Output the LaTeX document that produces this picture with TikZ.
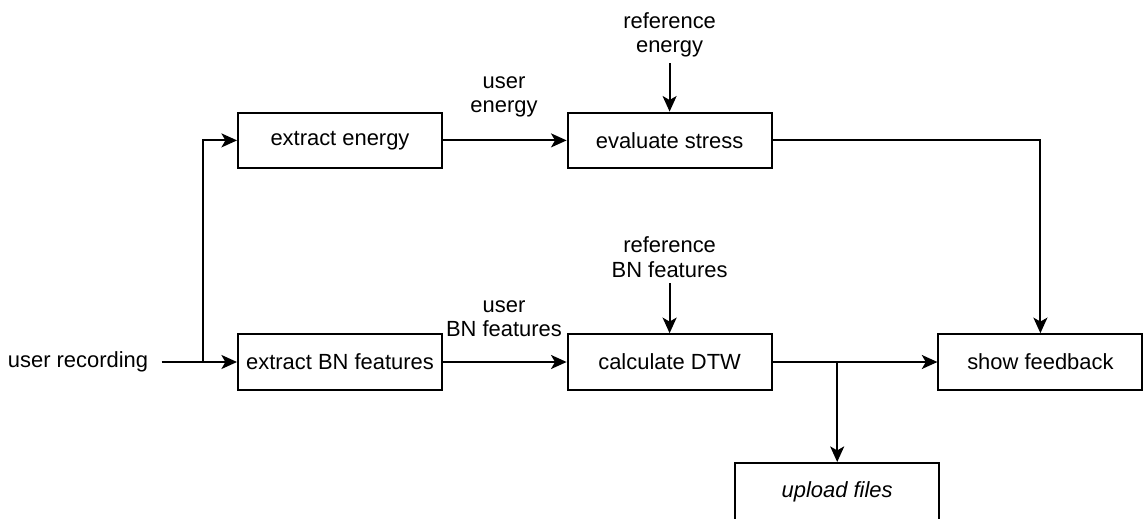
\documentclass[tikz,border=0pt]{standalone}
\usepackage{fontspec}
\setmainfont{Liberation Sans}
\usetikzlibrary{arrows.meta}

\begin{document}
\begin{tikzpicture}[
  every node/.style={font=\fontsize{15.6}{17.6}\selectfont, align=center},
  block/.style={draw, line width=1.4pt, minimum width=5.1cm, minimum height=1.39cm, inner sep=0pt},
  flow/.style={line width=1.4pt, -{Stealth[length=0.39cm, width=0.35cm, inset=0.1cm]}}
]
\useasboundingbox (0,0) rectangle (28.6,12.95);
% boxes
\node [block] (exEnergy) at (8.5,9.44) {extract energy};
\node [block] (evStress) at (16.74,9.44) {evaluate stress};
\node [block] (exBN) at (8.5,3.9) {extract BN features};
\node [block] (calcDTW) at (16.74,3.9) {calculate DTW};
\node [block] (feedback) at (26.01,3.9) {show feedback};
\node [block, minimum height=1.45cm] (upload) at (20.93,0.65) {\itshape upload files};
% texts
\node [inner sep=0pt] (recording) at (1.95,3.9) {user recording};
\node (userEnergy) at (12.6,10.53) {user\\energy};
\node (userBN) at (12.6,4.98) {user\\BN features};
\node [inner sep=1pt] (refEnergy) at (16.74,12.08) {reference\\energy};
\node [inner sep=1pt] (refBN) at (16.74,6.52) {reference\\BN features};
\coordinate (split) at (5.075,3.9);
% connectors
\draw [flow] ([xshift=0.33cm]recording.east) -- (exBN.west);
\draw [flow] (split) |- (exEnergy.west);
\draw [flow] (exEnergy.east) -- (evStress.west);
\draw [flow] (exBN.east) -- (calcDTW.west);
\draw [flow] ([yshift=-0.1cm]refEnergy.south) -- (evStress.north);
\draw [flow] ([yshift=-0.1cm]refBN.south) -- (calcDTW.north);
\draw [flow] (evStress.east) -| (feedback.north);
\draw [flow] (calcDTW.east) -- (feedback.west);
\draw [flow] (upload.north |- calcDTW.east) -- (upload.north);
\end{tikzpicture}
\end{document}
